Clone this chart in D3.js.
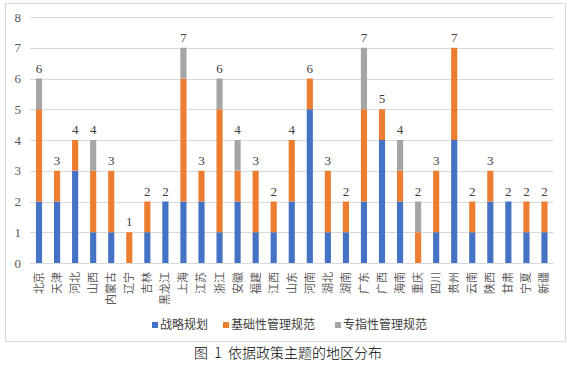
<!DOCTYPE html>
<html>
<head>
<meta charset="utf-8">
<script src="https://cdn.jsdelivr.net/npm/d3@7"></script>
<style>
  body { margin: 0; background: #fff; }
  svg { display: block; }
</style>
</head>
<body>
<script>
// Data
const regions = ["北京","天津","河北","山西","内蒙古","辽宁","吉林","黑龙江","上海","江苏","浙江","安徽","福建","江西","山东","河南","湖北","湖南","广东","广西","海南","重庆","四川","贵州","云南","陕西","甘肃","宁夏","新疆"];
const strategic = [2,2,3,1,1,0,1,2,2,2,1,2,1,1,2,5,1,1,2,4,2,0,1,4,1,2,2,1,1];
const basic     = [3,1,1,2,2,1,1,0,4,1,4,1,2,1,2,1,2,1,3,1,1,1,2,3,1,1,0,1,1];
const special   = [1,0,0,1,0,0,0,0,1,0,1,1,0,0,0,0,0,0,2,0,1,1,0,0,0,0,0,0,0];
const seriesNames = ["战略规划","基础性管理规范","专指性管理规范"];
const yTicks = [0,1,2,3,4,5,6,7,8];

const colors = ["#4472C4","#ED7D31","#A5A5A5"];
const cjk = "'Noto Sans CJK SC', sans-serif";
const serif = "'Liberation Serif', 'DejaVu Serif', serif";

const W = 580, H = 366;
const svg = d3.select("body").append("svg").attr("width", W).attr("height", H);

// chart frame
svg.append("rect").attr("x", 5.5).attr("y", 3.5).attr("width", 560).attr("height", 338)
   .attr("fill", "#fff").attr("stroke", "#d9d9d9");

const table = regions.map((r, i) => ({region: r, s0: strategic[i], s1: basic[i], s2: special[i]}));
const stack = d3.stack().keys(["s0","s1","s2"])(table);

// Scales
const x = d3.scaleBand().domain(regions).range([30, 553.5]).paddingInner(0.66).paddingOuter(0.33);
const y = d3.scaleLinear().domain([0, 8]).range([263, 17]);

// grid
svg.append("g").selectAll("line").data(yTicks).join("line")
   .attr("x1", 30).attr("x2", 553.5)
   .attr("y1", d => Math.round(y(d)) + 0.5).attr("y2", d => Math.round(y(d)) + 0.5)
   .attr("stroke", "#d9d9d9");

// y labels
svg.append("g").selectAll("text").data(yTicks).join("text")
   .attr("x", 21).attr("y", d => y(d)).attr("dy", "0.35em")
   .attr("text-anchor", "end").attr("font-family", serif).attr("font-size", 13)
   .attr("fill", "#595959").text(d => d);

// bars
svg.append("g").selectAll("g").data(stack).join("g")
   .attr("fill", (d, i) => colors[i])
   .selectAll("rect").data(d => d).join("rect")
   .attr("x", d => x(d.data.region))
   .attr("width", x.bandwidth())
   .attr("y", d => y(d[1]))
   .attr("height", d => y(d[0]) - y(d[1]));

// totals
svg.append("g").selectAll("text").data(table).join("text")
   .attr("x", d => x(d.region) + x.bandwidth() / 2)
   .attr("y", d => y(d.s0 + d.s1 + d.s2) - 6)
   .attr("text-anchor", "middle").attr("font-family", serif).attr("font-size", 13)
   .attr("fill", "#404040")
   .text(d => d.s0 + d.s1 + d.s2);

// x labels, rotated
svg.append("g").selectAll("text").data(regions).join("text")
   .attr("transform", d => `translate(${x(d) + x.bandwidth() / 2 + 4},272) rotate(-90)`)
   .attr("text-anchor", "end").attr("font-family", cjk).attr("font-size", 11)
   .attr("fill", "#595959").text(d => d);

// legend
const legendX = [152, 223, 335];
const lg = svg.append("g").selectAll("g").data(seriesNames).join("g")
   .attr("transform", (d, i) => `translate(${legendX[i]},325)`);
lg.append("rect").attr("x", 0).attr("y", -3).attr("width", 6).attr("height", 6)
  .attr("fill", (d, i) => colors[i]);
lg.append("text").attr("x", 8).attr("dy", "0.35em")
  .attr("font-family", cjk).attr("font-size", 12).attr("fill", "#404040").text(d => d);

// caption
svg.append("text").attr("x", 288).attr("y", 353).attr("dy", "0.35em")
   .attr("text-anchor", "middle").attr("font-family", cjk).attr("font-size", 14)
   .attr("font-weight", 300).style("white-space", "pre")
   .attr("fill", "#000").text("图  1  依据政策主题的地区分布");
</script>
</body>
</html>
